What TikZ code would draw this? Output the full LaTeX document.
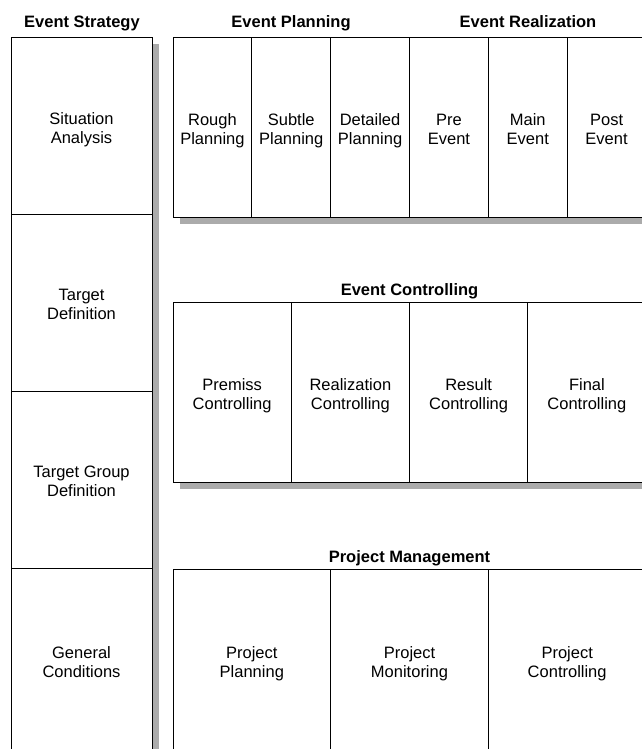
\documentclass[tikz,border=0pt]{standalone}
\usepackage{fontspec}
\setmainfont{Liberation Sans}
\definecolor{shadowgray}{HTML}{ABABAB}
\begin{document}
\begin{tikzpicture}[x=1pt,y=-1pt,
  cell/.style={draw=black,line width=0.9pt,fill=white,inner sep=0pt,outer sep=0pt},
  txt/.style={align=center,font=\fontsize{16.5}{19}\selectfont,inner sep=0pt,yshift=-5pt,
    execute at begin node=\strut, execute at end node=\strut},
  title/.style={font=\fontsize{16.5}{19}\selectfont\bfseries,inner sep=0pt,anchor=base},
  shadow/.style={fill=shadowgray}]
\useasboundingbox[fill=white] (0,0) rectangle (642,749);
% shadows
\fill[shadow] (18,44) rectangle (159,760);
\fill[shadow] (180,44) rectangle (653,224);
\fill[shadow] (180,309) rectangle (653,489);
\fill[shadow] (180,576) rectangle (653,760);
% titles
\node[title] (tStrat) at (82,28) {Event Strategy};
\node[title] (tPlan) at (291,28) {Event Planning};
\node[title] (tReal) at (528,28) {Event Realization};
\node[title] (tCtrl) at (409.5,295) {Event Controlling};
\node[title] (tPM) at (409.5,562) {Project Management};
% left column
\node[cell,minimum width=141pt,minimum height=177pt,label={[txt]center:Situation\\Analysis}] (s1) at (81.5,125.5) {};
\node[cell,minimum width=141pt,minimum height=177pt,label={[txt]center:Target\\Definition}] (s2) at (81.5,302.5) {};
\node[cell,minimum width=141pt,minimum height=177pt,label={[txt]center:Target Group\\Definition}] (s3) at (81.5,479.5) {};
\node[cell,minimum width=141pt,minimum height=183pt,label={[txt]center:General\\Conditions}] (s4) at (81.5,659.5) {};
% planning / realization
\node[cell,minimum width=78.83pt,minimum height=180pt,label={[txt]center:Rough\\Planning}] (p1) at (212.42,127) {};
\node[cell,minimum width=78.83pt,minimum height=180pt,label={[txt]center:Subtle\\Planning}] (p2) at (291.25,127) {};
\node[cell,minimum width=78.83pt,minimum height=180pt,label={[txt]center:Detailed\\Planning}] (p3) at (370.08,127) {};
\node[cell,minimum width=78.83pt,minimum height=180pt,label={[txt]center:Pre\\Event}] (r1) at (448.92,127) {};
\node[cell,minimum width=78.83pt,minimum height=180pt,label={[txt]center:Main\\Event}] (r2) at (527.75,127) {};
\node[cell,minimum width=78.83pt,minimum height=180pt,label={[txt]center:Post\\Event}] (r3) at (606.58,127) {};
% controlling
\node[cell,minimum width=118.25pt,minimum height=180pt,label={[txt]center:Premiss\\Controlling}] (c1) at (232.13,392) {};
\node[cell,minimum width=118.25pt,minimum height=180pt,label={[txt]center:Realization\\Controlling}] (c2) at (350.38,392) {};
\node[cell,minimum width=118.25pt,minimum height=180pt,label={[txt]center:Result\\Controlling}] (c3) at (468.63,392) {};
\node[cell,minimum width=118.25pt,minimum height=180pt,label={[txt]center:Final\\Controlling}] (c4) at (586.88,392) {};
% project management
\node[cell,minimum width=157.67pt,minimum height=182pt,label={[txt]center:Project\\Planning}] (m1) at (251.83,660) {};
\node[cell,minimum width=157.67pt,minimum height=182pt,label={[txt]center:Project\\Monitoring}] (m2) at (409.5,660) {};
\node[cell,minimum width=157.67pt,minimum height=182pt,label={[txt]center:Project\\Controlling}] (m3) at (567.17,660) {};
\end{tikzpicture}
\end{document}
